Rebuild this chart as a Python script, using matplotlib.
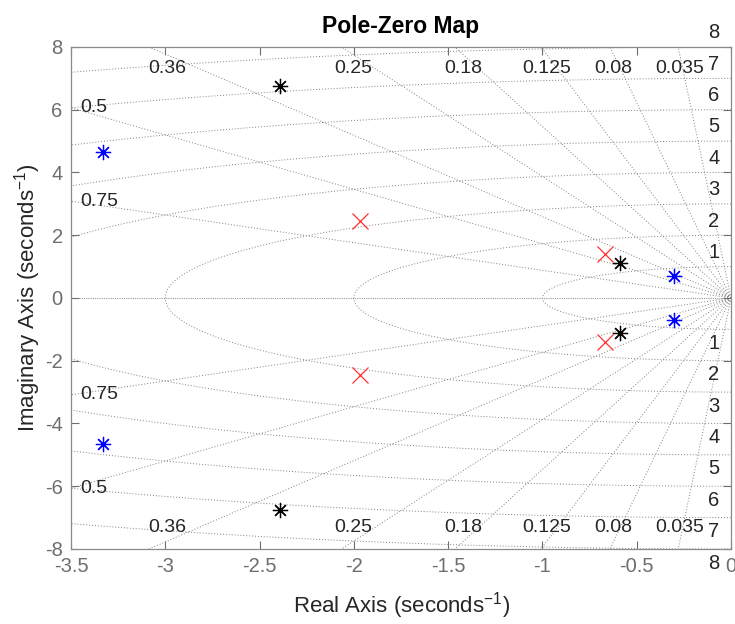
import numpy as np
import matplotlib
matplotlib.use("Agg")
from matplotlib import pyplot as plt

# pole / zero locations (upper half, mirrored below)
blue_re = [-3.33, -0.30]
blue_im = [4.65, 0.69]
black_re = [-2.39, -0.59]
black_im = [6.75, 1.12]
red_re = [-1.97, -0.67]
red_im = [2.45, 1.39]

# grid values
zetas = [0.035, 0.08, 0.125, 0.18, 0.25, 0.36, 0.5, 0.75]
zeta_labels = ["0.035", "0.08", "0.125", "0.18", "0.25", "0.36", "0.5", "0.75"]
wn = [1, 2, 3, 4, 5, 6, 7, 8]

xlim = (-3.5, 0)
ylim = (-8, 8)

plt.rcParams["font.family"] = ["Liberation Sans", "DejaVu Sans"]

fig = plt.figure(figsize=(7.35, 6.24), dpi=100)
ax = fig.add_axes([0.0966, 0.1202, 0.898, 0.8045])

grid_kw = dict(color="0.5", linestyle=(0, (1, 2)), linewidth=0.7, zorder=1)

# real axis
ax.plot([-10, 0], [0, 0], color="0.6", linestyle=(0, (1, 1)), linewidth=0.8, zorder=1)

# damping lines
R = 30
for z in zetas:
    s = np.sqrt(1 - z**2)
    ax.plot([0, -z * R], [0, s * R], **grid_kw)
    ax.plot([0, -z * R], [0, -s * R], **grid_kw)

# natural frequency semicircles
th = np.linspace(np.pi / 2, 3 * np.pi / 2, 400)
for w in wn:
    ax.plot(w * np.cos(th), w * np.sin(th), **grid_kw)

# damping labels
lab_col = "#262626"
for z, lab in zip(zetas, zeta_labels):
    slope = np.sqrt(1 - z**2) / z
    xt = -7.75 / slope
    if xt > xlim[0] + 0.3:
        for sg in (1, -1):
            ax.text(xt, sg * 7.32, lab, ha="center", va="center",
                    fontsize=14, color=lab_col, zorder=2)
    else:
        yt = -xlim[0] * slope
        for sg in (1, -1):
            ax.text(xlim[0] + 0.05, sg * yt, lab, ha="left", va="center",
                    fontsize=14, color=lab_col, zorder=2)

# natural frequency labels
for w in wn:
    for sg in (1, -1):
        ax.text(-0.09, sg * (w + 0.45), str(w), ha="center", va="center",
                fontsize=14.5, color=lab_col, zorder=2)

# markers
ast = (8, 2, 0)
for sg in (1, -1):
    ax.plot(blue_re, [sg * v for v in blue_im], linestyle="none", marker=ast,
            markersize=11, markeredgewidth=0.9, color="#0000ff", zorder=3)
    ax.plot(black_re, [sg * v for v in black_im], linestyle="none", marker=ast,
            markersize=11, markeredgewidth=0.9, color="black", zorder=3)
    ax.plot(red_re, [sg * v for v in red_im], linestyle="none", marker="x",
            markersize=11, markeredgewidth=0.9, color="#ff3030", zorder=3)

ax.set_xlim(xlim)
ax.set_ylim(ylim)
ax.set_xticks(np.arange(-3.5, 0.01, 0.5))
ax.set_xticklabels(["-3.5", "-3", "-2.5", "-2", "-1.5", "-1", "-0.5", "0"])
ax.set_yticks(np.arange(-8, 8.1, 2))
ax.set_yticklabels([str(v) for v in range(-8, 9, 2)])

tick_col = "#6e6e6e"
ax.tick_params(direction="in", top=True, right=True, length=6, width=0.8,
               colors=tick_col, labelsize=14.5, pad=6)
for sp in ax.spines.values():
    sp.set_color("#8a8a8a")
    sp.set_linewidth(0.9)

ax.set_xlabel(r"Real Axis (seconds$^{\mathregular{-1}}$)", fontsize=16,
              color="#262626", labelpad=10)
ax.set_ylabel(r"Imaginary Axis (seconds$^{\mathregular{-1}}$)", fontsize=16,
              color="#262626", labelpad=1)
ax.set_title("Pole-Zero Map", fontsize=16.5, fontweight="bold", pad=10)

fig.savefig("out.png", dpi=100)
